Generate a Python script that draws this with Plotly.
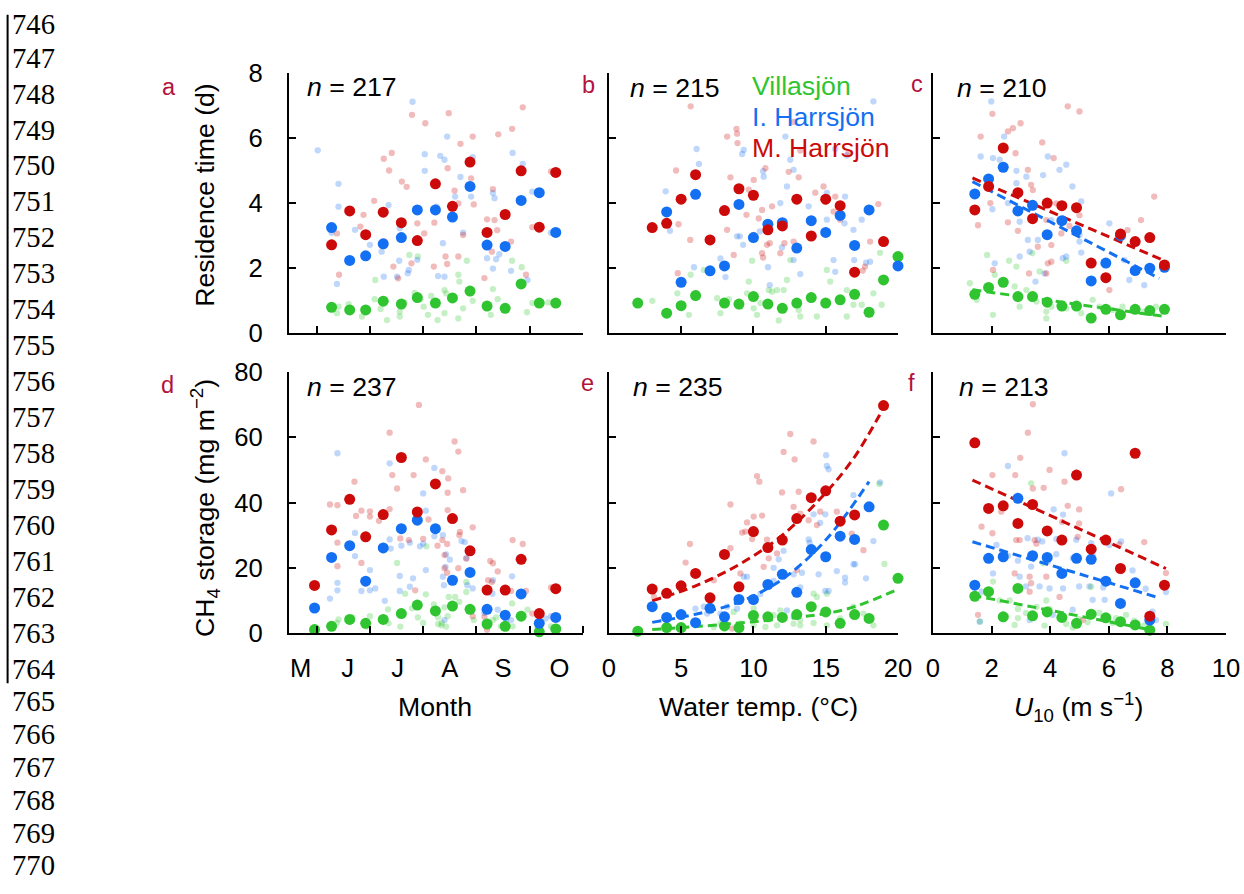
import plotly.graph_objects as go

# ---------------- data ----------------
lake_names = ["Villasjön", "I. Harrsjön", "M. Harrsjön"]
n_labels = ["217", "215", "210", "237", "235", "213"]
panel_letters = ["a", "b", "c", "d", "e", "f"]
month_labels = ["M", "J", "J", "A", "S", "O"]
month_label_pos = [5.70, 6.58, 7.52, 8.50, 9.50, 10.56]
month_ticks = [6, 7, 8, 9, 10, 11]
temp_ticks = [0, 5, 10, 15, 20]
wind_ticks = [0, 2, 4, 6, 8, 10]
rt_ticks = [0, 2, 4, 6, 8]
ch4_ticks = [0, 20, 40, 60, 80]

# --- panel a: residence time (d) vs month, 10-day bin means
a_month = [6.28, 6.62, 6.92, 7.25, 7.59, 7.89, 8.23, 8.55, 8.88, 9.20, 9.54, 9.84, 10.18, 10.49]
a_green = [0.80, 0.72, 0.72, 0.99, 0.90, 1.10, 0.93, 1.09, 1.30, 0.84, 0.77, 1.52, 0.93, 0.93]
a_blue = [3.25, 2.24, 2.38, 2.75, 2.94, 3.79, 3.79, 3.57, 4.51, 2.71, 2.67, 4.08, 4.32, 3.10]
a_red = [2.72, 3.76, 3.03, 3.72, 3.40, 2.85, 4.59, 3.90, 5.26, 3.10, 3.65, 4.99, 3.26, 4.94]

a_green_raw = [(6.38, 0.62), (6.85, 0.52), (7.10, 1.64), (7.32, 0.41), (7.56, 0.52), (7.56, 0.67), (7.84, 1.24),
               (7.74, 2.41), (7.90, 2.36), (8.01, 0.82), (8.09, 0.57), (8.27, 0.41), (8.40, 1.33), (8.43, 1.23),
               (7.09, 1.05), (6.41, 0.82), (8.66, 1.80), (8.68, 1.59), (8.40, 0.62), (8.66, 0.46), (8.75, 0.77),
               (8.93, 1.00), (8.82, 2.23), (9.31, 1.36), (9.40, 1.05), (9.27, 0.57), (9.67, 2.23), (9.95, 0.65),
               (9.85, 2.03), (10.05, 0.93), (10.35, 0.95), (7.65, 0.95), (7.95, 1.05), (7.20, 0.75), (6.60, 0.90),
               (8.15, 1.15)]
a_blue_raw = [(6.02, 5.62), (6.41, 4.59), (6.41, 3.89), (6.28, 3.09), (6.38, 1.52), (6.72, 3.18), (7.00, 2.72),
              (7.22, 2.51), (7.35, 3.94), (7.26, 1.74), (7.55, 2.23), (7.71, 1.85), (7.80, 7.11), (8.03, 5.50),
              (8.03, 4.99), (8.32, 5.45), (8.40, 5.33), (8.45, 6.04), (8.37, 2.77), (8.40, 1.74), (7.56, 3.23),
              (7.51, 1.74), (7.73, 1.95), (7.89, 2.26), (8.70, 4.80), (8.60, 4.20), (8.90, 4.20), (8.93, 5.41),
              (8.25, 3.89), (8.28, 1.76), (8.75, 3.09), (9.31, 4.31), (9.34, 4.15), (9.20, 2.31), (9.31, 1.99),
              (9.37, 2.28), (9.43, 2.43), (9.65, 1.92), (9.68, 5.54), (9.87, 5.20), (9.96, 1.64), (10.05, 4.35),
              (10.40, 3.09)]
a_red_raw = [(6.42, 1.80), (6.38, 3.07), (6.88, 3.64), (7.08, 4.07), (7.26, 5.36), (7.41, 5.54), (7.36, 5.00),
             (7.60, 4.66), (7.69, 4.50), (7.79, 6.71), (8.04, 6.45), (8.02, 3.07), (8.48, 6.76), (8.46, 5.07),
             (7.89, 3.38), (8.20, 2.05), (8.42, 2.36), (7.44, 2.05), (7.53, 1.69), (7.78, 2.15), (7.28, 2.82),
             (6.82, 3.28), (8.70, 5.82), (8.93, 6.04), (8.59, 4.38), (8.66, 3.99), (8.95, 3.96), (8.90, 4.76),
             (8.75, 3.02), (8.21, 3.40), (8.45, 2.13), (8.66, 2.36), (9.15, 1.70), (9.20, 3.50), (9.31, 4.43),
             (9.34, 3.48), (9.39, 3.17), (9.29, 2.51), (9.41, 6.11), (9.67, 6.28), (9.87, 6.94), (9.65, 2.82),
             (10.05, 3.26), (9.93, 1.80), (10.40, 4.97)]

# --- panel b: residence time (d) vs water temperature (°C)
b_green_T = [2, 4, 5, 6, 8, 9, 10, 11, 12, 13, 14, 15, 16, 17, 18, 19, 20]
b_green = [0.93, 0.62, 0.85, 1.16, 0.93, 0.90, 1.13, 0.90, 0.77, 0.93, 1.10, 0.93, 1.03, 1.20, 0.65, 1.64, 2.36]
b_blue_T = [4, 5, 6, 7, 8, 9, 10, 11, 12, 13, 14, 15, 16, 17, 18, 20]
b_blue = [3.73, 1.57, 4.27, 1.92, 2.07, 3.96, 2.94, 3.35, 3.40, 2.62, 3.46, 3.10, 3.62, 2.70, 3.79, 2.07]
b_red_T = [3, 4, 5, 6, 7, 8, 9, 10, 11, 12, 13, 14, 15, 16, 17, 19]
b_red = [3.25, 3.38, 4.12, 4.87, 2.87, 3.77, 4.44, 4.24, 3.18, 3.30, 4.12, 2.99, 4.12, 3.92, 1.88, 2.82]

b_green_raw = [(4.74, 1.23), (5.66, 1.80), (6.57, 1.95), (7.49, 1.08), (8.30, 1.05), (9.68, 1.59), (9.91, 2.23),
               (10.02, 0.77), (10.25, 0.57), (11.06, 1.33), (11.29, 1.28), (11.63, 1.33), (12.09, 1.33),
               (12.32, 1.64), (12.55, 2.25), (12.90, 0.93), (13.13, 0.72), (13.24, 0.52), (14.39, 0.52),
               (15.08, 1.95), (15.31, 1.59), (16.46, 1.33), (16.46, 0.52), (16.92, 0.88), (17.49, 0.88),
               (18.30, 1.23), (18.87, 0.88), (18.76, 2.47), (6.11, 1.23), (5.54, 0.57), (7.72, 0.62),
               (9.10, 0.82), (10.48, 0.93), (11.75, 0.40), (3.01, 1.00), (9.56, 1.23)]
b_blue_raw = [(18.30, 7.12), (6.07, 5.66), (6.23, 5.20), (3.93, 4.36), (4.23, 3.15), (5.89, 2.03), (7.72, 2.30),
              (8.07, 1.73), (9.22, 5.51), (9.33, 5.63), (10.71, 4.81), (10.67, 4.98), (11.86, 4.00), (12.21, 6.04),
              (12.55, 5.33), (12.78, 5.02), (12.32, 4.51), (13.82, 3.90), (15.08, 4.31), (16.34, 4.20),
              (16.30, 3.38), (16.46, 5.46), (16.92, 3.18), (17.49, 3.49), (15.66, 5.66), (9.06, 2.98),
              (9.29, 2.72), (10.44, 3.13), (11.01, 2.03), (11.13, 1.48), (11.97, 2.64), (12.78, 2.25),
              (13.24, 1.82), (14.16, 2.98), (15.08, 3.49), (15.54, 2.25), (15.66, 1.89), (16.97, 2.25),
              (17.79, 2.17), (18.07, 2.20), (8.87, 2.98)]
b_red_raw = [(5.66, 6.97), (4.65, 5.00), (4.82, 3.35), (5.63, 2.87), (4.77, 1.85), (8.18, 6.04), (8.83, 6.28),
             (8.87, 6.13), (8.41, 4.79), (8.90, 5.84), (10.02, 4.71), (9.68, 4.41), (10.37, 3.53), (10.60, 3.79),
             (10.83, 5.07), (11.29, 3.90), (8.18, 3.18), (8.64, 2.41), (9.52, 3.64), (10.02, 3.02), (10.60, 2.46),
             (10.67, 2.33), (11.13, 2.77), (11.86, 2.46), (12.14, 2.77), (12.44, 4.96), (12.78, 6.49),
             (13.13, 4.79), (13.24, 5.61), (14.05, 3.40), (14.28, 4.32), (14.85, 4.51), (14.97, 4.04),
             (15.54, 3.74), (15.66, 4.20), (16.00, 3.49), (16.57, 5.53), (18.07, 2.82), (18.64, 3.97),
             (17.72, 2.05), (17.56, 1.93), (12.78, 2.82), (10.94, 2.72)]

# --- panel c: residence time (d) vs wind speed U10 (m/s)
c_U = [1.43, 1.9, 2.4, 2.9, 3.4, 3.9, 4.4, 4.9, 5.4, 5.9, 6.4, 6.9, 7.4, 7.9]
c_green = [1.20, 1.41, 1.57, 1.13, 1.13, 0.96, 0.84, 0.84, 0.47, 0.74, 0.57, 0.74, 0.70, 0.74]
c_blue = [4.28, 4.74, 5.10, 3.76, 3.93, 3.03, 3.46, 3.15, 1.61, 2.16, 3.00, 1.93, 2.00, 2.03]
c_red = [3.79, 4.51, 5.69, 4.32, 3.52, 4.00, 3.92, 3.86, 2.16, 1.71, 3.05, 2.82, 2.94, 2.10]
c_fit_green_U, c_fit_green = [1.35, 7.90], [1.34, 0.52]
c_fit_blue_U, c_fit_blue = [1.35, 7.72], [4.66, 1.69]
c_fit_red_U, c_fit_red = [1.35, 7.95], [4.77, 2.21]

c_green_raw = [(1.26, 1.54), (1.85, 2.41), (1.49, 1.03), (2.11, 1.80), (2.05, 0.57), (2.60, 2.23), (2.79, 1.44),
               (2.96, 0.82), (3.19, 1.33), (3.39, 2.46), (3.64, 1.90), (3.53, 0.98), (3.87, 0.67), (3.87, 0.46),
               (4.04, 0.82), (4.38, 0.88), (4.55, 2.23), (4.55, 0.77), (5.06, 0.62), (5.45, 1.03), (6.13, 0.72),
               (6.47, 0.82), (7.21, 0.67), (7.61, 0.82), (5.68, 0.82), (2.85, 2.05), (3.35, 1.13)]
c_blue_raw = [(1.99, 7.12), (1.63, 5.43), (2.05, 5.38), (2.28, 5.33), (2.43, 6.04), (2.85, 4.99), (2.85, 4.61),
              (3.19, 4.81), (3.76, 4.86), (3.92, 5.43), (4.32, 5.02), (4.55, 5.18), (4.76, 4.51), (5.06, 4.05),
              (2.03, 3.81), (2.56, 4.00), (2.96, 3.43), (3.24, 2.87), (3.58, 2.87), (3.30, 2.51), (2.96, 2.36),
              (4.04, 3.48), (4.43, 2.31), (4.55, 2.36), (5.00, 2.82), (5.00, 3.02), (2.11, 2.15), (6.02, 3.38),
              (6.53, 2.25), (6.70, 1.64), (7.21, 1.48), (3.50, 1.59), (3.81, 1.84), (5.06, 2.48)]
c_red_raw = [(2.03, 6.74), (4.60, 6.97), (5.00, 6.81), (1.63, 6.04), (2.56, 6.20), (2.73, 6.30), (2.99, 6.45),
             (3.73, 5.86), (4.12, 5.38), (2.82, 5.53), (3.24, 5.02), (3.35, 4.56), (3.41, 4.40), (1.54, 3.32),
             (2.56, 3.41), (2.90, 3.15), (3.87, 3.48), (4.21, 3.99), (4.38, 3.07), (4.66, 3.30), (5.00, 3.63),
             (3.58, 2.66), (4.04, 2.71), (2.05, 1.95), (3.92, 2.15), (4.04, 2.20), (6.02, 1.33), (6.64, 3.17),
             (7.10, 3.48), (7.55, 4.20), (3.28, 1.84), (3.87, 1.84), (1.96, 4.00)]

# --- panel d: CH4 storage (mg m-2) vs month
d_month = [5.96, 6.28, 6.62, 6.92, 7.25, 7.59, 7.89, 8.23, 8.55, 8.88, 9.20, 9.54, 9.84, 10.18, 10.49]
d_green = [1.1, 2.1, 4.2, 3.0, 4.2, 6.0, 8.6, 6.8, 8.3, 7.3, 2.8, 2.1, 5.2, 0.4, 1.3]
d_blue = [7.7, 23.2, 26.8, 15.9, 26.1, 32.0, 34.6, 32.0, 16.2, 18.6, 7.3, 5.5, 12.0, 3.0, 4.8]
d_red = [14.6, 31.6, 41.0, 29.5, 36.3, 53.8, 37.1, 45.7, 35.1, 25.2, 13.2, 13.2, 22.6, 6.0, 13.6]

d_green_raw = [(6.38, 3.1), (6.41, 4.2), (6.67, 4.8), (7.00, 5.2), (7.34, 7.3), (7.35, 3.0), (7.51, 21.5),
               (7.57, 2.0), (7.79, 7.6), (7.90, 4.8), (8.06, 26.6), (8.05, 11.9), (8.20, 8.8), (8.28, 2.8),
               (8.35, 3.1), (8.46, 5.2), (8.48, 11.1), (8.43, 2.0), (8.00, 3.1), (7.66, 12.1), (7.28, 4.0),
               (6.93, 2.0), (8.40, 7.9), (8.60, 11.1), (8.68, 9.6), (8.28, 4.9), (8.34, 2.4), (8.81, 15.7),
               (8.81, 12.6), (8.93, 7.2), (8.95, 4.0), (9.31, 4.0), (9.37, 4.8), (9.46, 2.1), (9.67, 9.1),
               (9.68, 2.1), (9.96, 7.2), (10.40, 2.1), (10.15, 1.9)]
d_blue_raw = [(6.39, 55.1), (6.25, 10.6), (6.39, 15.4), (6.39, 13.1), (6.72, 30.7), (6.72, 23.6), (7.00, 19.3),
              (7.00, 13.1), (6.84, 12.9), (7.10, 13.7), (7.28, 9.9), (7.39, 25.9), (7.37, 28.7), (7.37, 52.0),
              (7.56, 17.5), (7.56, 12.9), (7.75, 27.7), (7.75, 14.2), (7.81, 16.8), (7.94, 26.6), (8.00, 27.4),
              (8.00, 42.8), (8.05, 37.5), (8.21, 50.6), (8.21, 29.7), (8.37, 30.0), (8.42, 20.3), (8.39, 14.7),
              (8.40, 4.0), (8.05, 19.3), (7.59, 26.8), (8.72, 28.2), (8.78, 27.9), (8.81, 23.0), (8.50, 22.5),
              (8.43, 24.1), (8.37, 17.3), (8.83, 14.7), (8.93, 13.7), (9.31, 16.2), (9.30, 12.1), (9.67, 17.4),
              (9.40, 7.2), (9.56, 4.1), (9.65, 4.0), (9.15, 6.2), (10.30, 4.5), (10.40, 5.2)]
d_red_raw = [(6.25, 39.4), (6.39, 39.2), (6.39, 27.7), (6.39, 20.5), (6.71, 46.4), (6.74, 35.9), (6.84, 37.5),
             (7.00, 37.3), (7.00, 35.7), (6.84, 21.5), (7.17, 34.4), (7.37, 61.4), (7.37, 38.0), (7.42, 48.4),
             (7.51, 44.3), (7.57, 29.0), (7.73, 28.5), (7.82, 48.4), (7.85, 13.1), (8.00, 28.9), (8.05, 53.2),
             (7.92, 69.9), (8.10, 34.8), (8.27, 26.8), (8.36, 49.6), (8.47, 47.4), (8.46, 43.0), (8.40, 19.9),
             (8.46, 37.7), (8.59, 58.7), (8.66, 55.6), (8.75, 43.8), (8.69, 31.0), (8.68, 30.0), (8.93, 32.4),
             (8.45, 27.3), (8.36, 28.5), (8.40, 23.9), (8.66, 19.9), (8.45, 18.5), (8.81, 22.8), (8.93, 5.2),
             (9.26, 22.1), (9.31, 21.4), (9.40, 18.9), (9.22, 16.2), (9.29, 15.7), (9.68, 28.5), (9.87, 27.3),
             (9.65, 12.9), (9.93, 12.9), (9.15, 5.0), (10.05, 6.0), (10.40, 14.0), (9.20, 1.0)]

# --- panel e: CH4 storage vs water temperature
e_green_T = [2, 4, 5, 8, 9, 10, 11, 12, 13, 14, 15, 16, 17, 18, 19, 20]
e_green = [0.6, 1.7, 1.7, 2.2, 1.7, 5.4, 5.0, 4.8, 5.7, 8.1, 6.5, 3.0, 5.7, 4.5, 33.1, 16.8]
e_blue_T = [3, 4, 5, 6, 7, 8, 9, 10, 11, 12, 13, 14, 15, 16, 17, 18]
e_blue = [8.1, 4.8, 5.7, 3.2, 7.6, 5.0, 10.3, 10.3, 14.9, 18.0, 12.5, 25.6, 23.4, 29.7, 28.7, 38.7]
e_red_T = [3, 4, 5, 6, 7, 8, 9, 10, 11, 12, 13, 14, 15, 16, 17, 19]
e_red = [13.5, 12.2, 14.5, 18.3, 10.8, 24.1, 14.2, 31.1, 26.2, 28.5, 35.1, 41.5, 43.6, 34.3, 36.2, 69.7]
e_fit_green_T, e_fit_green = [3, 6, 10, 15, 17, 20], [1.1, 2.0, 3.5, 6.0, 8.1, 13.4]
e_fit_blue_T, e_fit_blue = [3, 6, 9, 12, 15, 18], [3.3, 5.8, 9.5, 16.5, 28.5, 46.4]
e_fit_red_T, e_fit_red = [3, 6, 9, 12, 15, 17, 19], [9.9, 14.5, 21.0, 30.0, 43.0, 54.0, 69.0]

e_green_raw = [(18.71, 45.7), (19.06, 21.2), (19.98, 17.2), (14.16, 12.1), (14.39, 11.1), (15.08, 12.1),
               (11.86, 7.0), (11.40, 5.5), (12.78, 2.9), (13.24, 2.4), (14.16, 3.1), (15.08, 2.4), (16.92, 8.1),
               (17.61, 6.0), (18.30, 2.4), (10.02, 7.6), (9.10, 3.0), (11.63, 2.4), (10.83, 1.9), (7.72, 3.0),
               (7.26, 1.9), (8.64, 6.5), (13.24, 4.0), (16.00, 4.5), (10.02, 2.4)]
e_blue_raw = [(15.03, 54.5), (15.08, 51.2), (15.20, 50.2), (14.97, 36.4), (14.62, 33.8), (14.16, 36.4),
              (13.82, 28.7), (13.89, 27.7), (12.09, 25.2), (11.75, 22.6), (11.40, 20.0), (12.78, 18.0),
              (13.36, 18.5), (14.51, 18.0), (15.77, 19.0), (16.92, 42.3), (17.03, 36.2), (18.30, 28.2),
              (17.79, 16.8), (16.92, 21.1), (16.34, 17.0), (16.34, 15.5), (15.20, 12.9), (14.97, 12.9),
              (13.24, 14.0), (11.40, 16.0), (9.33, 17.3), (9.56, 17.3), (10.48, 12.0), (8.87, 7.5), (8.18, 8.1),
              (7.72, 6.0), (6.80, 6.0), (6.57, 8.1), (5.99, 7.5), (4.97, 6.0), (12.32, 7.0), (12.78, 5.0),
              (17.03, 21.1), (18.76, 46.2)]
e_red_raw = [(12.55, 61.0), (14.16, 58.7), (12.09, 55.5), (12.85, 53.2), (10.25, 48.1), (10.41, 46.4),
             (8.41, 39.4), (11.98, 43.1), (13.13, 43.3), (10.02, 35.7), (10.60, 36.0), (9.56, 33.9),
             (9.45, 31.1), (9.22, 30.8), (9.91, 28.8), (10.94, 28.6), (5.31, 21.6), (5.61, 27.3), (8.41, 26.0),
             (11.06, 22.9), (11.63, 24.4), (12.78, 38.7), (13.24, 36.6), (13.82, 34.6), (14.62, 37.2),
             (14.39, 33.1), (15.77, 37.2), (17.61, 25.4), (16.80, 30.5), (9.10, 18.3), (10.71, 20.3),
             (7.26, 16.2), (8.53, 1.4), (3.13, 11.1), (3.93, 12.1), (11.86, 18.3), (13.01, 19.3)]

# --- panel f: CH4 storage vs wind speed
f_green_U = [1.43, 1.9, 2.4, 2.9, 3.4, 3.9, 4.4, 4.9, 5.4, 5.9, 6.4, 6.9, 7.4]
f_green = [11.3, 12.7, 5.0, 13.7, 5.3, 6.5, 4.8, 3.0, 5.8, 4.7, 3.5, 2.5, 0.9]
f_blue_U = [1.43, 1.9, 2.4, 2.9, 3.4, 3.9, 4.4, 4.9, 5.4, 5.9, 6.4, 6.9, 7.4]
f_blue = [14.7, 22.9, 23.4, 41.3, 23.7, 23.2, 18.3, 22.9, 22.6, 15.9, 9.1, 15.4, 4.0]
f_red_U = [1.43, 1.9, 2.4, 2.9, 3.4, 3.9, 4.4, 4.9, 5.4, 5.9, 6.4, 6.9, 7.4, 7.9]
f_red = [58.3, 38.2, 39.0, 33.6, 39.4, 31.3, 28.5, 48.4, 25.7, 28.5, 19.8, 55.1, 5.2, 14.7]
f_fit_green_U, f_fit_green = [1.35, 7.49], [11.6, 0.9]
f_fit_blue_U, f_fit_blue = [1.35, 7.72], [28.0, 10.8]
f_fit_red_U, f_fit_red = [1.35, 7.95], [46.9, 19.8]

f_green_raw = [(3.35, 45.9), (2.05, 15.8), (2.62, 10.0), (2.90, 7.4), (3.18, 6.2), (1.60, 3.6), (2.50, 5.1),
               (2.79, 2.5), (2.90, 4.6), (3.41, 5.1), (3.76, 21.4), (3.81, 2.3), (3.98, 7.4), (4.55, 2.8),
               (4.77, 1.7), (4.99, 4.3), (5.28, 3.3), (5.40, 14.2), (5.68, 6.2), (5.90, 5.1), (6.13, 3.1),
               (6.25, 4.6), (6.59, 5.6), (6.87, 3.8), (7.21, 2.4), (7.95, 2.8), (3.87, 10.0), (3.53, 8.0),
               (2.28, 10.0)]
f_blue_raw = [(2.56, 51.2), (4.49, 55.1), (6.08, 42.8), (4.12, 37.9), (4.44, 36.3), (3.23, 29.1), (3.58, 28.6),
              (3.73, 28.1), (4.21, 28.8), (4.89, 28.6), (5.40, 27.6), (6.02, 27.0), (6.42, 28.1), (2.17, 27.0),
              (2.05, 18.3), (2.56, 23.7), (2.90, 22.2), (3.35, 20.4), (3.92, 21.9), (4.21, 24.2), (4.77, 23.0),
              (5.45, 23.9), (1.66, 12.7), (2.96, 17.3), (3.18, 14.3), (3.64, 14.3), (3.98, 13.7), (4.44, 13.7),
              (4.99, 14.3), (5.34, 14.3), (5.81, 14.0), (6.81, 19.2), (7.26, 13.6), (7.95, 12.6), (1.60, 3.5),
              (3.30, 4.0), (4.09, 5.6), (4.77, 7.2), (5.45, 10.2), (7.49, 6.6), (7.61, 4.0), (5.86, 10.2)]
f_red_raw = [(3.41, 70.1), (3.24, 61.4), (2.98, 53.7), (2.81, 48.4), (2.03, 48.4), (3.98, 50.0), (4.49, 46.4),
             (3.78, 44.5), (3.41, 44.3), (4.99, 37.9), (4.60, 39.0), (4.41, 34.1), (4.99, 33.6), (4.94, 29.5),
             (6.42, 44.1), (7.21, 27.9), (7.95, 18.4), (1.66, 32.6), (2.03, 30.6), (2.33, 37.2), (2.84, 28.5),
             (2.96, 28.5), (3.47, 28.5), (3.53, 27.4), (2.79, 18.3), (3.30, 17.3), (3.35, 15.3), (3.87, 17.3),
             (4.32, 11.1), (5.11, 4.0), (1.54, 5.6), (3.30, 12.7), (6.36, 27.2)]

line_numbers = list(range(746, 771))

# ---------------- styling ----------------
W, H = 1244, 894
FONT = "Liberation Sans, Arial, Helvetica, sans-serif"
SERIF = "Liberation Serif, Times New Roman, serif"
GREEN = "#30c430"
BLUE = "#1470f2"
RED = "#cc0a0a"
FAINT = {GREEN: "rgba(48,196,48,0.28)", BLUE: "rgba(20,112,242,0.28)", RED: "rgba(204,10,10,0.28)"}
LETTER_COLOR = "#b3123b"
DASH = "9px,5px"
FS = 1.025  # small font compensation

# target pixel boxes of the six panels (as in the reference picture)
cols_px = [(287, 582), (608, 898), (933, 1227)]
rows_px = [(73, 333.5), (372, 633)]

# the captured page maps figure pixels slightly inward; compensate
SX, OX = 0.986, 4.4
SY, OY = 0.968, 14.3


def fx(p):
    return ((p - OX) / SX) / W


def fy(p):
    return 1 - ((p - OY) / SY) / H


fig = go.Figure()


def ax_names(i):
    return ("x" if i == 0 else f"x{i+1}"), ("y" if i == 0 else f"y{i+1}")


def add_raw(i, pts, color):
    xa, ya = ax_names(i)
    fig.add_trace(go.Scatter(x=[p[0] for p in pts], y=[p[1] for p in pts], mode="markers",
                             marker=dict(size=6.3, color=FAINT[color], line=dict(width=0)),
                             xaxis=xa, yaxis=ya, showlegend=False, cliponaxis=False, hoverinfo="skip"))


def add_mean(i, xs, ys, color):
    xa, ya = ax_names(i)
    fig.add_trace(go.Scatter(x=xs, y=ys, mode="markers",
                             marker=dict(size=11, color=color, line=dict(width=0)),
                             xaxis=xa, yaxis=ya, showlegend=False, cliponaxis=False))


def add_fit(i, xs, ys, color, spline=False):
    xa, ya = ax_names(i)
    fig.add_trace(go.Scatter(x=xs, y=ys, mode="lines",
                             line=dict(color=color, width=3, dash=DASH,
                                       shape="spline" if spline else "linear"),
                             xaxis=xa, yaxis=ya, showlegend=False, hoverinfo="skip"))


panels = [
    dict(raw=[(a_green_raw, GREEN), (a_blue_raw, BLUE), (a_red_raw, RED)],
         means=[(a_month, a_green, GREEN), (a_month, a_blue, BLUE), (a_month, a_red, RED)], fits=[]),
    dict(raw=[(b_green_raw, GREEN), (b_blue_raw, BLUE), (b_red_raw, RED)],
         means=[(b_green_T, b_green, GREEN), (b_blue_T, b_blue, BLUE), (b_red_T, b_red, RED)], fits=[]),
    dict(raw=[(c_green_raw, GREEN), (c_blue_raw, BLUE), (c_red_raw, RED)],
         means=[(c_U, c_green, GREEN), (c_U, c_blue, BLUE), (c_U, c_red, RED)],
         fits=[(c_fit_green_U, c_fit_green, GREEN), (c_fit_blue_U, c_fit_blue, BLUE), (c_fit_red_U, c_fit_red, RED)]),
    dict(raw=[(d_green_raw, GREEN), (d_blue_raw, BLUE), (d_red_raw, RED)],
         means=[(d_month, d_green, GREEN), (d_month, d_blue, BLUE), (d_month, d_red, RED)], fits=[]),
    dict(raw=[(e_green_raw, GREEN), (e_blue_raw, BLUE), (e_red_raw, RED)],
         means=[(e_green_T, e_green, GREEN), (e_blue_T, e_blue, BLUE), (e_red_T, e_red, RED)],
         fits=[(e_fit_green_T, e_fit_green, GREEN), (e_fit_blue_T, e_fit_blue, BLUE), (e_fit_red_T, e_fit_red, RED)]),
    dict(raw=[(f_green_raw, GREEN), (f_blue_raw, BLUE), (f_red_raw, RED)],
         means=[(f_green_U, f_green, GREEN), (f_blue_U, f_blue, BLUE), (f_red_U, f_red, RED)],
         fits=[(f_fit_green_U, f_fit_green, GREEN), (f_fit_blue_U, f_fit_blue, BLUE), (f_fit_red_U, f_fit_red, RED)]),
]

for i, p in enumerate(panels):
    for pts, col in p["raw"]:
        add_raw(i, pts, col)
    for xs, ys, col in p["fits"]:
        add_fit(i, xs, ys, col, spline=(i == 4))
    for xs, ys, col in p["means"]:
        add_mean(i, xs, ys, col)

tickfont = dict(family=FONT, size=25 * FS, color="black")
base = dict(showline=True, linecolor="black", linewidth=2, ticks="inside", ticklen=7, tickwidth=2,
            tickcolor="black", showgrid=False, zeroline=False, tickfont=tickfont, fixedrange=True)

x_ranges = [[5.476, 11], [0, 20], [0, 10]]
y_ranges = [[0, 8], [0, 80]]

layout_axes = {}
for i in range(6):
    r, c = divmod(i, 3)
    xa, ya = ax_names(i)
    xkey = "xaxis" if i == 0 else f"xaxis{i+1}"
    ykey = "yaxis" if i == 0 else f"yaxis{i+1}"
    xd = dict(base, domain=[fx(cols_px[c][0]), fx(cols_px[c][1])], range=x_ranges[c], anchor=ya,
              ticklabelstandoff=11)
    yd = dict(base, domain=[fy(rows_px[r][1]), fy(rows_px[r][0])], range=y_ranges[r], anchor=xa,
              ticklabelstandoff=19)
    if c == 0:
        if r == 1:
            xd.update(tickmode="array", tickvals=month_label_pos, ticktext=month_labels, ticks="",
                      minor=dict(tickmode="array", tickvals=month_ticks, ticks="inside", ticklen=7,
                                 tickwidth=2, tickcolor="black", showgrid=False))
        else:
            xd.update(tickmode="array", tickvals=month_ticks, showticklabels=False)
    elif c == 1:
        xd.update(tickmode="array", tickvals=temp_ticks, showticklabels=(r == 1))
    else:
        xd.update(tickmode="array", tickvals=wind_ticks, showticklabels=(r == 1))
    yvals = rt_ticks if r == 0 else ch4_ticks
    yd.update(tickmode="array", tickvals=yvals, showticklabels=(c == 0))
    layout_axes[xkey] = xd
    layout_axes[ykey] = yd

annotations = []


def ann(text, x, y, size=26, color="black", xanchor="left", yanchor="middle", angle=0, family=FONT):
    annotations.append(dict(text=text, x=fx(x), y=fy(y), xref="paper", yref="paper", showarrow=False,
                            xanchor=xanchor, yanchor=yanchor, textangle=angle,
                            font=dict(family=family, size=size * FS, color=color)))


# axis titles
ann("Residence time (d)", 203, 195, xanchor="center", angle=-90)
ann("CH<sub>4</sub> storage (mg m<sup>−2</sup>)", 203, 508, xanchor="center", angle=-90)
ann("Month", 434, 707, xanchor="center")
ann("Water temp. (°C)", 758, 707, xanchor="center")
ann("<i>U</i><sub>10</sub> (m s<sup>−1</sup>)", 1079, 707, xanchor="center")

# n labels
n_pos = [(303, 87), (627, 88), (955, 88), (303, 387), (630, 387), (957, 387)]
for (x, y), n in zip(n_pos, n_labels):
    ann(f"<i>n</i> = {n}", x, y)

# panel letters
letter_pos = [(158, 87), (579, 85), (909, 84), (157, 385), (578, 383), (906, 383)]
for (x, y), L in zip(letter_pos, panel_letters):
    ann(L, x, y, size=23, color=LETTER_COLOR)

# legend text
for (name, col), y in zip(zip(lake_names, [GREEN, BLUE, RED]), [86, 117, 148]):
    ann(name, 750, y, color=col)

# line numbers: 746-764 on the original spacing; 765-770 slightly tighter so all stay inside the page
line_y = [22 + k * 35.92 for k in range(19)]
line_y[0] = 24
last_main = line_y[-1]
tail_step = (865 - last_main) / (len(line_numbers) - 19)
line_y += [last_main + j * tail_step for j in range(1, len(line_numbers) - 18)]
for num, y in zip(line_numbers, line_y):
    ann(str(num), 7, y, size=28, family=SERIF)

shapes = [dict(type="line", xref="paper", yref="paper", x0=fx(5), x1=fx(5), y0=fy(15), y1=fy(683),
               line=dict(color="black", width=2))]

fig.update_layout(width=W, height=H, margin=dict(l=0, r=0, t=0, b=0), plot_bgcolor="white",
                  paper_bgcolor="white", showlegend=False, annotations=annotations, shapes=shapes,
                  **layout_axes)

fig.write_html("out.html")
